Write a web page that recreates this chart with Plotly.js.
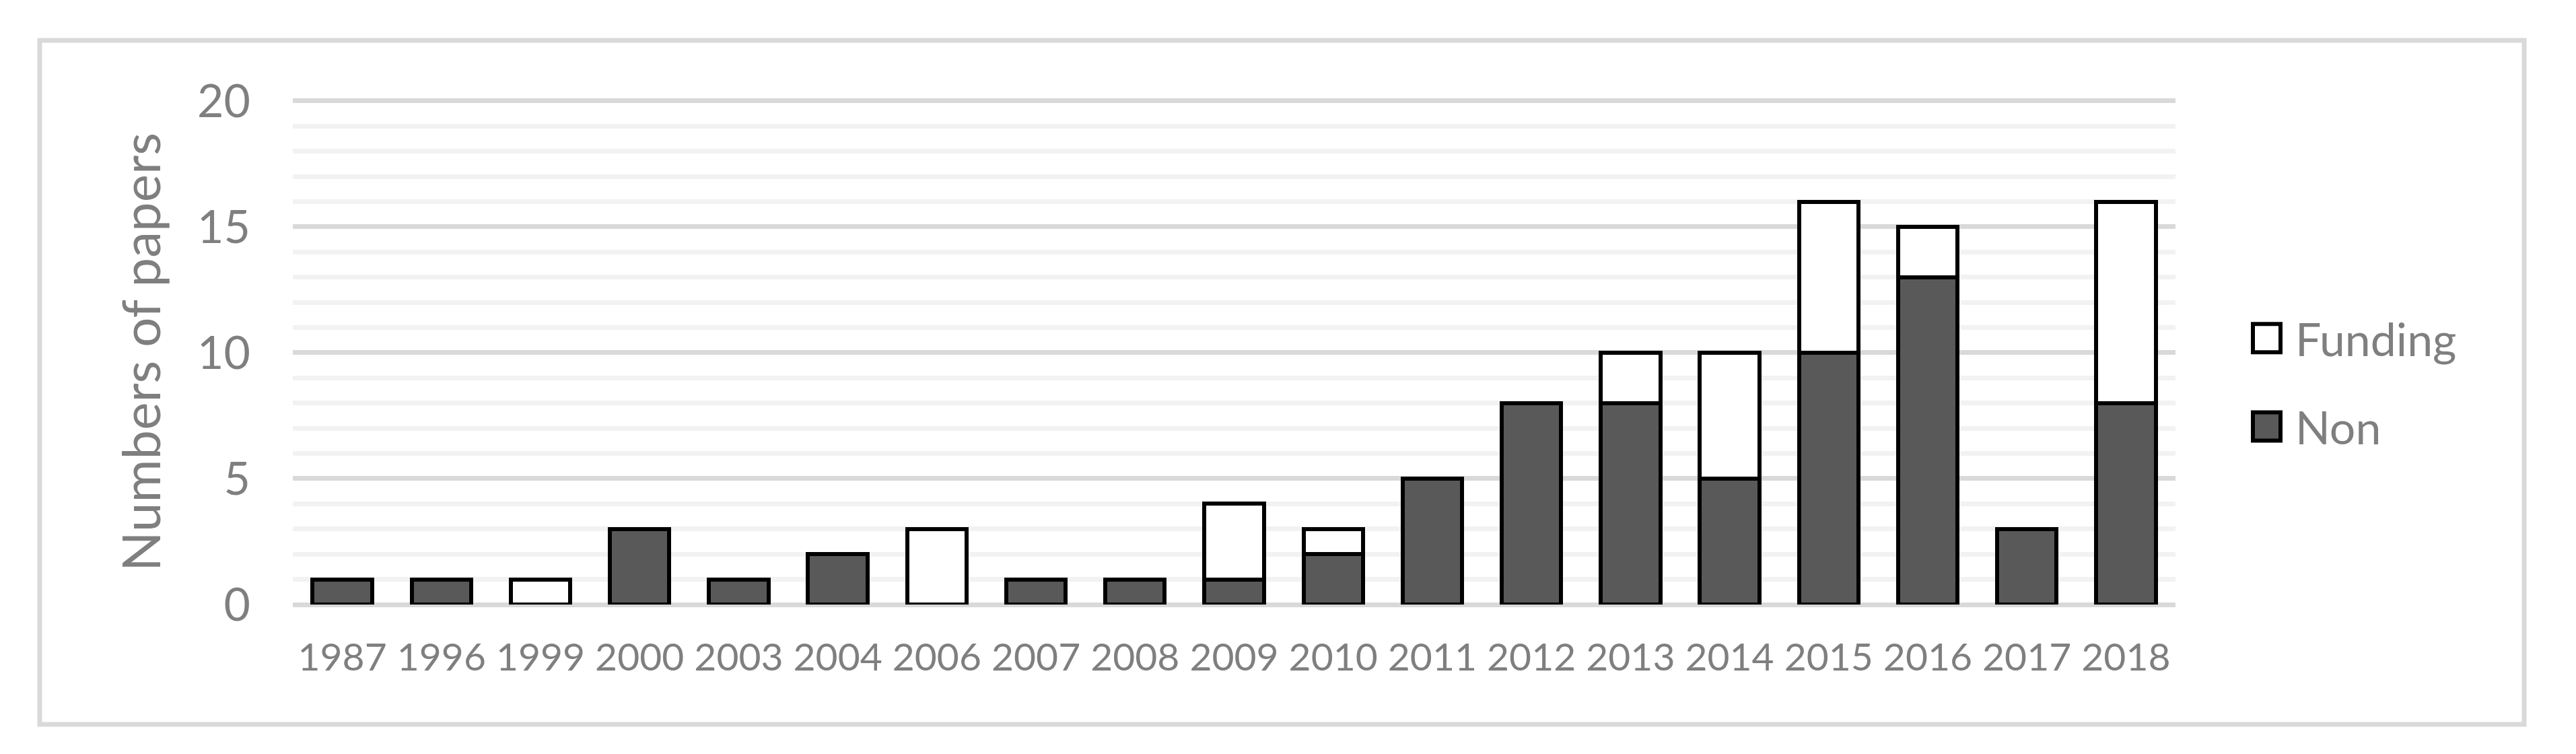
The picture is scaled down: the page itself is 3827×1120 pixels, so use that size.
<!DOCTYPE html>
<html>
<head>
<meta charset="utf-8">
<script src="https://cdn.plot.ly/plotly-3.0.1.min.js"></script>
<style>
  html, body { margin: 0; padding: 0; background: #fff; }
  #chart { width: 3827px; height: 1120px; }
</style>
</head>
<body>
<div id="chart"></div>
<script>
// values
const years = ['1987', '1996', '1999', '2000', '2003', '2004', '2006', '2007', '2008', '2009',
               '2010', '2011', '2012', '2013', '2014', '2015', '2016', '2017', '2018'];
const nonValues = [1, 1, 0, 3, 1, 2, 0, 1, 1, 1, 2, 5, 8, 8, 5, 10, 13, 3, 8];
const fundingValues = [0, 0, 1, 0, 0, 0, 3, 0, 0, 3, 1, 0, 0, 2, 5, 6, 2, 0, 8];
const yTickVals = [0, 5, 10, 15, 20];

const textGrey = '#7f7f7f';
const font = 'Lato, "Open Sans", sans-serif';

const W = 3827, H = 1120;
const margin = { l: 435, r: 595, t: 148, b: 222 };
const yTop = 20.05; // a hair above 20 so the top gridline is drawn
const plotW = W - margin.l - margin.r;
const plotH = H - margin.t - margin.b;
const paperX = px => (px - margin.l) / plotW;
const paperY = py => (H - margin.b - py) / plotH;

// zero segments would leave a stroke line on the axis, so drop them
const noZero = arr => arr.map(v => (v === 0 ? null : v));

const traces = [
  {
    type: 'bar',
    name: 'Non',
    legendrank: 2,
    legendgroup: 'non',
    x: years,
    y: noZero(nonValues),
    marker: { color: '#595959', line: { color: '#000000', width: 6 } },
    hoverinfo: 'skip'
  },
  {
    type: 'bar',
    name: 'Funding',
    legendrank: 1,
    legendgroup: 'funding',
    x: years,
    y: noZero(fundingValues),
    marker: { color: '#ffffff', line: { color: '#000000', width: 6 } },
    hoverinfo: 'skip'
  }
];

const layout = {
  width: W,
  height: H,
  margin: margin,
  paper_bgcolor: '#ffffff',
  plot_bgcolor: '#ffffff',
  barmode: 'stack',
  bargap: 0.4,
  font: { family: font, color: textGrey },
  xaxis: {
    type: 'category',
    showgrid: false,
    showline: false,
    zeroline: false,
    ticks: '',
    ticklabelstandoff: 40,
    tickfont: { size: 57, color: textGrey },
    fixedrange: true
  },
  yaxis: {
    range: [0, yTop],
    tickvals: yTickVals,
    showline: false,
    ticks: '',
    showgrid: true,
    gridcolor: '#d9d9d9',
    gridwidth: 7,
    zeroline: true,
    zerolinecolor: '#d9d9d9',
    zerolinewidth: 7,
    minor: { dtick: 1, showgrid: true, gridcolor: '#f2f2f2', gridwidth: 7, ticks: '' },
    ticklabelstandoff: 62,
    tickfont: { size: 68, color: textGrey },
    title: { text: 'Numbers of papers', font: { size: 78, color: textGrey }, standoff: 28 },
    automargin: false,
    fixedrange: true
  },
  showlegend: true,
  legend: {
    x: paperX(3325),
    xanchor: 'left',
    y: paperY(568),
    yanchor: 'middle',
    traceorder: 'grouped',
    tracegroupgap: 40,
    itemwidth: 75,
    font: { size: 68, color: textGrey },
    bgcolor: 'rgba(0,0,0,0)'
  },
  shapes: [
    {
      type: 'rect',
      xref: 'paper', yref: 'paper',
      x0: paperX(59), x1: paperX(3750),
      y0: paperY(1076), y1: paperY(60),
      line: { color: '#d9d9d9', width: 7 },
      fillcolor: 'rgba(0,0,0,0)',
      layer: 'below'
    }
  ]
};

const config = { displayModeBar: false, staticPlot: true };

function growLegendBoxes(gd) {
  gd.querySelectorAll('.legend .legendpoints path').forEach(p => {
    p.setAttribute('d', 'M20.5,21H-20.5V-21H20.5Z');
    p.style.strokeWidth = '6px';
  });
}

Plotly.newPlot('chart', traces, layout, config).then(gd => {
  growLegendBoxes(gd);
  gd.on('plotly_afterplot', () => growLegendBoxes(gd));
});
</script>
</body>
</html>
